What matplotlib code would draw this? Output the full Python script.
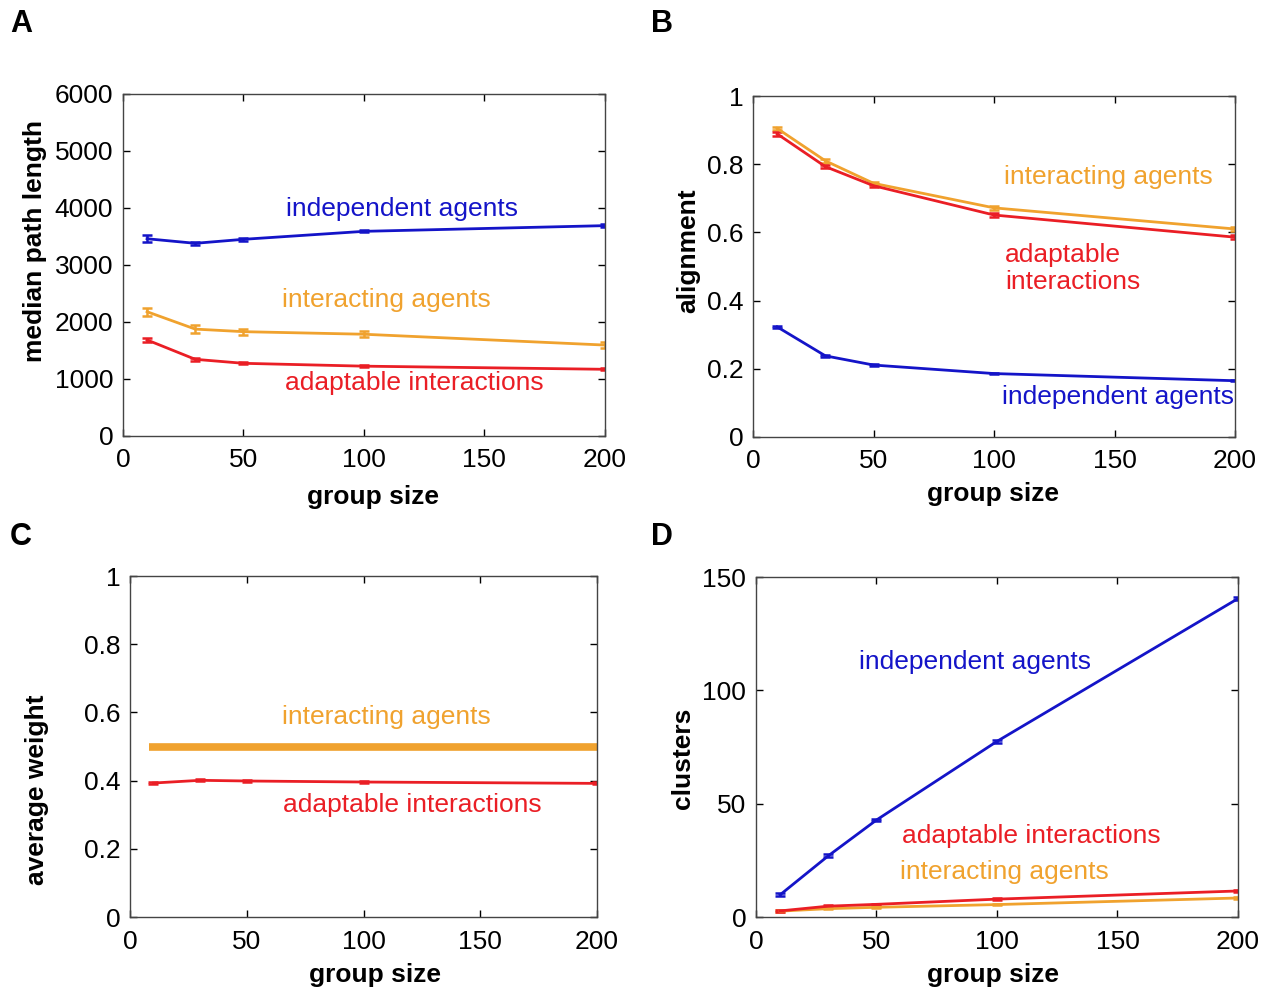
import matplotlib
matplotlib.use("Agg")
import matplotlib.pyplot as plt

plt.rcParams['font.family'] = ['Liberation Sans', 'DejaVu Sans']

BLUE = '#1414c8'
ORANGE = '#f0a22e'
RED = '#ea1e25'

group_size = [10, 30, 50, 100, 200]

# Panel A: median path length
pathlen_independent = [3460, 3380, 3450, 3590, 3690]
pathlen_independent_err = [60, 25, 25, 20, 20]
pathlen_interacting = [2180, 1875, 1830, 1785, 1595]
pathlen_interacting_err = [70, 70, 50, 50, 50]
pathlen_adaptable = [1685, 1345, 1275, 1225, 1170]
pathlen_adaptable_err = [40, 25, 20, 20, 20]

# Panel B: alignment
align_interacting = [0.905, 0.810, 0.744, 0.672, 0.610]
align_adaptable = [0.889, 0.793, 0.737, 0.651, 0.586]
align_independent = [0.323, 0.238, 0.211, 0.186, 0.165]

# Panel C: average weight
weight_interacting = [0.5, 0.5, 0.5, 0.5, 0.5]
weight_adaptable = [0.393, 0.401, 0.399, 0.396, 0.392]

# Panel D: clusters
clusters_independent = [9.8, 27.0, 42.8, 77.5, 140.5]
clusters_adaptable = [2.7, 4.8, 5.6, 7.9, 11.5]
clusters_interacting = [2.6, 3.7, 4.3, 5.5, 8.4]

xticks = [0, 50, 100, 150, 200]

fig = plt.figure(figsize=(12.65, 9.9), dpi=100)

FS = 19
LW = 2.0
EB = dict(lw=LW, capsize=3.5, capthick=1.8, elinewidth=1.8)

def style(ax, ylabel, xl_pos, yl_pos):
    ax.tick_params(direction='in', length=5, width=1, top=True, right=True,
                   labelsize=FS, colors='black')
    ax.tick_params(axis='x', pad=9)
    ax.tick_params(axis='y', pad=7)
    for s in ax.spines.values():
        s.set_linewidth(1.0)
        s.set_color('#444444')
    ax.set_xlabel('group size', fontsize=FS, fontweight='bold')
    ax.set_ylabel(ylabel, fontsize=FS, fontweight='bold')
    ax.xaxis.set_label_coords(*xl_pos)
    ax.yaxis.set_label_coords(*yl_pos)
    ax.xaxis.label.set_va('center')
    ax.yaxis.label.set_va('center')

# A
axA = fig.add_axes([0.0972, 0.5596, 0.3810, 0.3455])
axA.errorbar(group_size, pathlen_independent, yerr=pathlen_independent_err, color=BLUE, **EB)
axA.errorbar(group_size, pathlen_interacting, yerr=pathlen_interacting_err, color=ORANGE, **EB)
axA.errorbar(group_size, pathlen_adaptable, yerr=pathlen_adaptable_err, color=RED, **EB)
axA.set_xlim(0, 200)
axA.set_ylim(0, 6000)
axA.set_xticks(xticks)
axA.set_yticks([0, 1000, 2000, 3000, 4000, 5000, 6000])
style(axA, 'median path length', (0.519, -0.178), (-0.183, 0.570))
axA.text(116, 3980, 'independent agents', color=BLUE, fontsize=FS, ha='center', va='center')
axA.text(109.5, 2390, 'interacting agents', color=ORANGE, fontsize=FS, ha='center', va='center')
axA.text(120.7, 930, 'adaptable interactions', color=RED, fontsize=FS, ha='center', va='center')

# B
axB = fig.add_axes([0.5953, 0.5586, 0.3810, 0.3444])
axB.errorbar(group_size, align_interacting, yerr=0.005, color=ORANGE, **EB)
axB.errorbar(group_size, align_adaptable, yerr=0.005, color=RED, **EB)
axB.errorbar(group_size, align_independent, yerr=0.002, color=BLUE, **EB)
axB.set_xlim(0, 200)
axB.set_ylim(0, 1)
axB.set_xticks(xticks)
axB.set_yticks([0, 0.2, 0.4, 0.6, 0.8, 1])
axB.set_yticklabels(['0', '0.2', '0.4', '0.6', '0.8', '1'])
style(axB, 'alignment', (0.498, -0.167), (-0.135, 0.545))
axB.text(147.3, 0.762, 'interacting agents', color=ORANGE, fontsize=FS, ha='center', va='center')
axB.text(104.6, 0.493, 'adaptable\ninteractions', color=RED, fontsize=FS, ha='left', va='center', linespacing=1.15)
axB.text(151.5, 0.117, 'independent agents', color=BLUE, fontsize=FS, ha='center', va='center')

# C
axC = fig.add_axes([0.1028, 0.0737, 0.3692, 0.3444])
axC.plot([8, 200], [weight_interacting[0], weight_interacting[-1]], color=ORANGE, lw=5.5, solid_capstyle='butt')
axC.errorbar(group_size, weight_adaptable, yerr=0.003, color=RED, **EB)
axC.set_xlim(0, 200)
axC.set_ylim(0, 1)
axC.set_xticks(xticks)
axC.set_yticks([0, 0.2, 0.4, 0.6, 0.8, 1])
axC.set_yticklabels(['0', '0.2', '0.4', '0.6', '0.8', '1'])
style(axC, 'average weight', (0.525, -0.170), (-0.199, 0.372))
axC.text(109.6, 0.587, 'interacting agents', color=ORANGE, fontsize=FS, ha='center', va='center')
axC.text(120.8, 0.328, 'adaptable interactions', color=RED, fontsize=FS, ha='center', va='center')

# D
axD = fig.add_axes([0.5976, 0.0737, 0.3810, 0.3434])
axD.errorbar(group_size, clusters_independent, yerr=0.6, color=BLUE, **EB)
axD.errorbar(group_size, clusters_interacting, yerr=0.3, color=ORANGE, **EB)
axD.errorbar(group_size, clusters_adaptable, yerr=0.3, color=RED, **EB)
axD.set_xlim(0, 200)
axD.set_ylim(0, 150)
axD.set_xticks(xticks)
axD.set_yticks([0, 50, 100, 150])
style(axD, 'clusters', (0.492, -0.171), (-0.151, 0.468))
axD.text(90.9, 112.5, 'independent agents', color=BLUE, fontsize=FS, ha='center', va='center')
axD.text(114.1, 35.7, 'adaptable interactions', color=RED, fontsize=FS, ha='center', va='center')
axD.text(102.9, 19.9, 'interacting agents', color=ORANGE, fontsize=FS, ha='center', va='center')

# Panel letters
for lab, x, y in [('A', 10, 24), ('B', 651, 24), ('C', 10, 537), ('D', 651, 537)]:
    fig.text(x / 1265, 1 - y / 990, lab, fontsize=22, fontweight='bold', ha='left', va='center')

fig.savefig('out.png', dpi=100)
